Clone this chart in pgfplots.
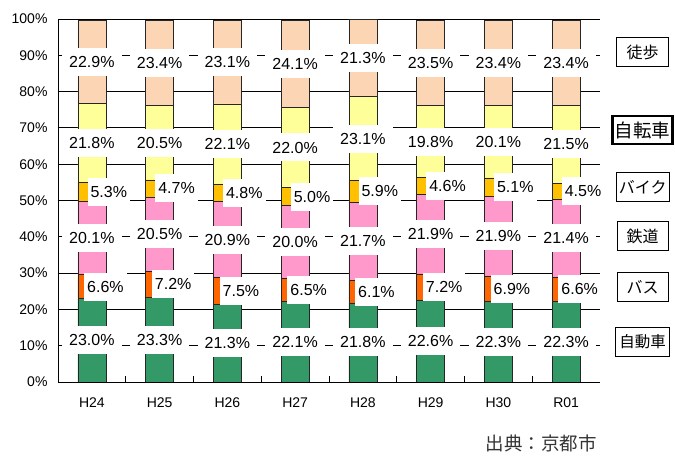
\documentclass[border=0pt]{standalone}
\usepackage{pgfplots}
\usepackage{pgfplotstable}
\pgfplotsset{compat=1.18}
\usepackage{fontspec}
\setmainfont{Liberation Sans}
\newfontfamily\jp{Noto Sans CJK JP}
\definecolor{cCar}{HTML}{339966}
\definecolor{cBus}{HTML}{FF6600}
\definecolor{cRail}{HTML}{FF99CC}
\definecolor{cBike}{HTML}{FFC000}
\definecolor{cCycle}{HTML}{FFFF99}
\definecolor{cWalk}{HTML}{FCD5B4}
\pgfplotstableread{
x car bus rail bike cycle walk
0 23.0 6.6 20.1 5.3 21.8 22.9
1 23.3 7.2 20.5 4.7 20.5 23.4
2 21.3 7.5 20.9 4.8 22.1 23.1
3 22.1 6.5 20.0 5.0 22.0 24.1
4 21.8 6.1 21.7 5.9 23.1 21.3
5 22.6 7.2 21.9 4.6 19.8 23.5
6 22.3 6.9 21.9 5.1 20.1 23.4
7 22.3 6.6 21.4 4.5 21.5 23.4
}\data
\pgfplotsset{
  base/.style={scale only axis, width=542pt, height=363pt,
    xmin=-0.5, xmax=7.5, ymin=0, ymax=100},
}
\tikzset{
  lbl/.style={fill=white, inner xsep=7pt, inner ysep=0pt, minimum height=28pt, anchor=center, font=\fontsize{16}{18}\selectfont, text=black},
  leg/.style={draw=black, line width=0.7pt, fill=white, minimum width=51pt, minimum height=29pt, inner sep=2pt, font=\jp\fontsize{16}{18}\selectfont},
}
\begin{document}
\begin{tikzpicture}
\begin{axis}[base,
  ybar stacked, bar width=28pt,
  axis x line*=bottom, axis y line*=left,
  axis line style={black, line width=0.8pt},
  xtick={0,...,7}, xticklabels={H24,H25,H26,H27,H28,H29,H30,R01},
  major x tick style={draw=none},
  minor xtick={0.5,1.5,...,6.5},
  minor x tick style={black, line width=0.8pt},
  minor tick length=6pt,
  ytick={0,10,...,100},
  yticklabels={0\%,10\%,20\%,30\%,40\%,50\%,60\%,70\%,80\%,90\%,100\%},
  major y tick style={draw=none},
  ymajorgrids, grid style={black, line width=0.8pt},
  tick label style={font=\fontsize{14}{16}\selectfont, text=black},
  yticklabel style={xshift=-7pt},
  xticklabel style={yshift=-12pt},
  every axis plot/.append style={draw=black!85, line width=0.6pt},
  name=main,
]
\addplot[fill=cCar] table[x=x,y=car]{\data};
\addplot[fill=cBus] table[x=x,y=bus]{\data};
\addplot[fill=cRail] table[x=x,y=rail]{\data};
\addplot[fill=cBike] table[x=x,y=bike]{\data};
\addplot[fill=cCycle] table[x=x,y=cycle]{\data};
\addplot[fill=cWalk] table[x=x,y=walk]{\data};
\coordinate (O) at (rel axis cs:0,0);
\end{axis}
\begin{axis}[base, hide axis, clip=false,
  nodes near coords={\pgfplotspointmeta\%},
  point meta=explicit symbolic,
  nodes near coords style={lbl},
]
\addplot[draw=none, mark=none] table[x=x, y expr=\thisrow{car}/2, meta=car]{\data};
\addplot[draw=none, mark=none, nodes near coords style={inner xsep=3pt}] table[x expr=\thisrow{x}+0.2, y expr=\thisrow{car}+\thisrow{bus}/2, meta=bus]{\data};
\addplot[draw=none, mark=none] table[x=x, y expr=\thisrow{car}+\thisrow{bus}+\thisrow{rail}/2, meta=rail]{\data};
\addplot[draw=none, mark=none, nodes near coords style={inner xsep=3pt}] table[x expr=\thisrow{x}+0.25, y expr=\thisrow{car}+\thisrow{bus}+\thisrow{rail}+\thisrow{bike}/2, meta=bike]{\data};
\addplot[draw=none, mark=none] table[x=x, y expr=\thisrow{car}+\thisrow{bus}+\thisrow{rail}+\thisrow{bike}+\thisrow{cycle}/2, meta=cycle]{\data};
\addplot[draw=none, mark=none] table[x=x, y expr=\thisrow{car}+\thisrow{bus}+\thisrow{rail}+\thisrow{bike}+\thisrow{cycle}+\thisrow{walk}/2, meta=walk]{\data};
\node[leg, minimum width=52pt] at (axis cs:8.13,90.9) {徒歩};
\node[leg, line width=2.8pt, minimum width=60pt, minimum height=28pt, font=\jp\fontsize{18.5}{20}\selectfont] at (axis cs:8.13,69.4) {自転車};
\node[leg, minimum width=53pt] at (axis cs:8.13,53.7) {バイク};
\node[leg] at (axis cs:8.13,40.2) {鉄道};
\node[leg] at (axis cs:8.13,26.2) {バス};
\node[leg, minimum width=54pt, font=\jp\fontsize{15.5}{18}\selectfont] at (axis cs:8.13,11.0) {自動車};
\node[font=\jp\fontsize{18.5}{20}\selectfont, text=black!80] at (axis cs:6.63,-16.8) {出典：京都市};
\end{axis}
\pgfresetboundingbox
\path ([shift={(-58pt,-75pt)}]O) rectangle ([shift={(617pt,382pt)}]O);
\end{tikzpicture}
\end{document}
